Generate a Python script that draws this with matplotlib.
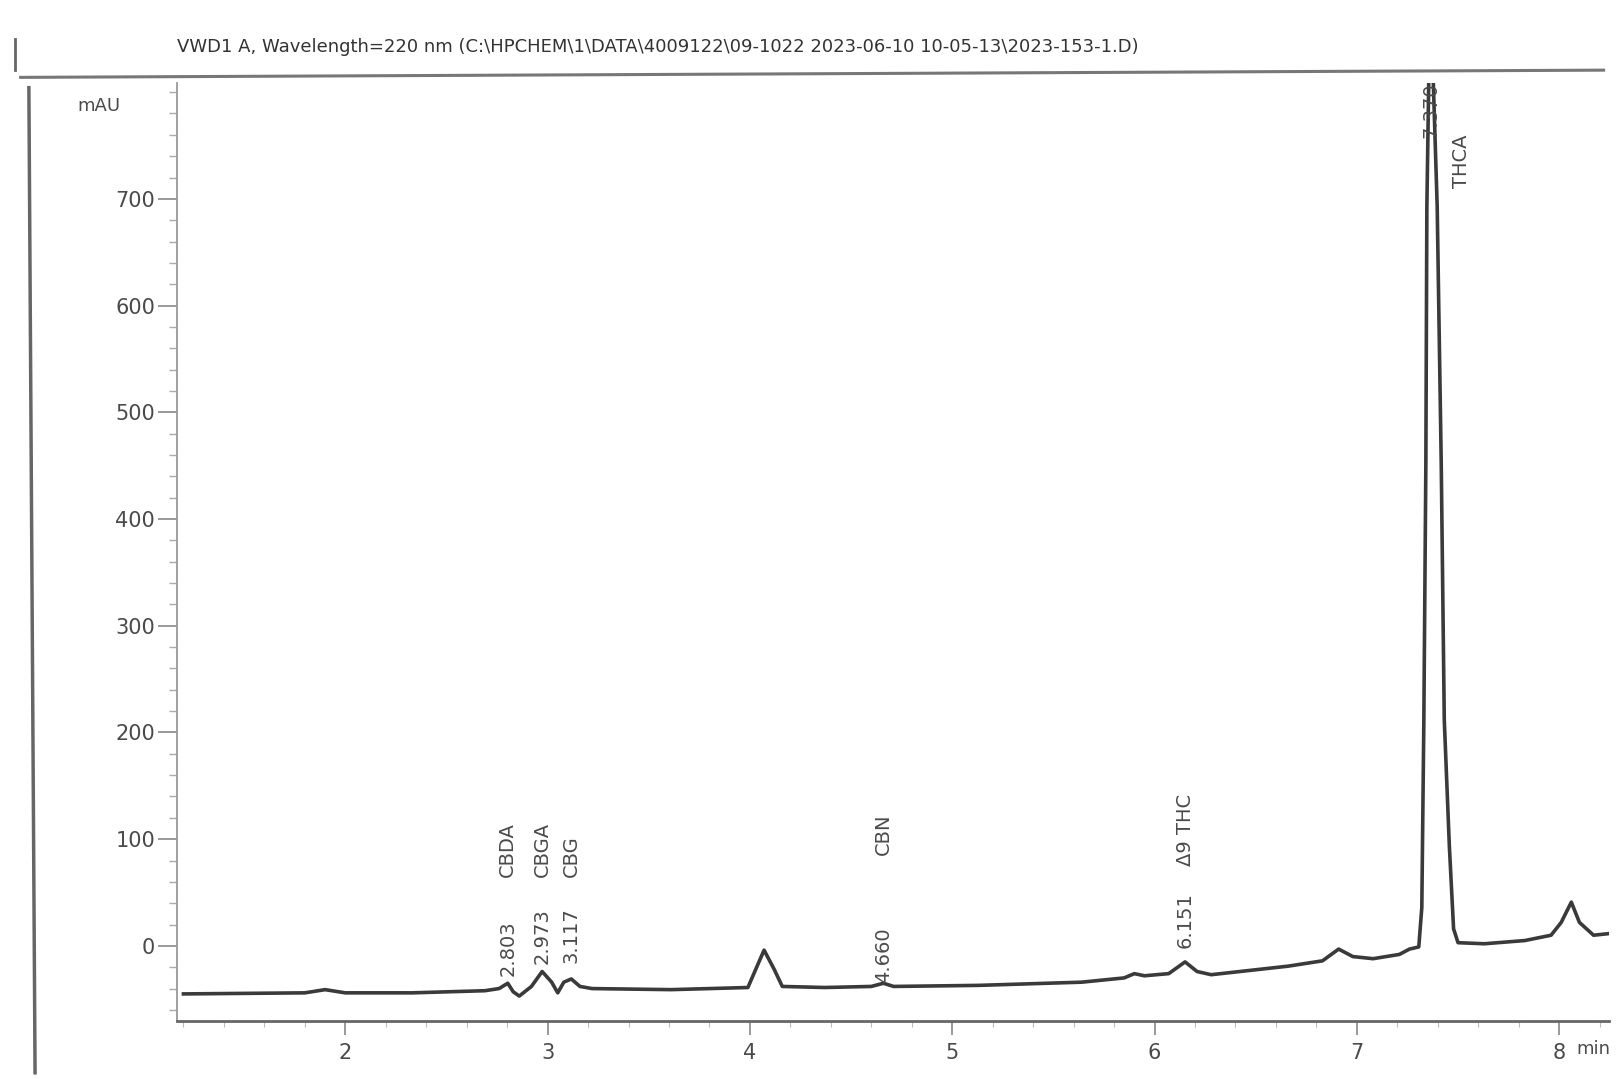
import matplotlib
matplotlib.use("Agg")
import matplotlib.pyplot as plt
from matplotlib.lines import Line2D
from matplotlib.ticker import MultipleLocator

# signal trace (retention time in min, absorbance in mAU)
times = [1.20, 1.80, 1.90, 2.00, 2.33, 2.69, 2.76, 2.803, 2.83, 2.86, 2.92,
         2.973, 3.02, 3.05, 3.08, 3.117, 3.16, 3.22, 3.61, 3.99, 4.04, 4.07,
         4.12, 4.16, 4.37, 4.60, 4.66, 4.71, 5.13, 5.64, 5.85, 5.90, 5.95,
         6.07, 6.151, 6.21, 6.28, 6.66, 6.83, 6.91, 6.98, 7.08, 7.21, 7.26,
         7.306, 7.321, 7.331, 7.341, 7.346, 7.356, 7.376, 7.397, 7.417, 7.432,
         7.457, 7.478, 7.50, 7.63, 7.83, 7.96, 8.01, 8.06, 8.10, 8.17, 8.27]
signal = [-45, -44, -41, -44, -44, -42, -40, -35, -43, -47, -38,
          -24, -34, -44, -34, -31, -38, -40, -41, -39, -17, -4,
          -22, -38, -39, -38, -35, -38, -37, -34, -30, -26, -28,
          -26, -15, -24, -27, -19, -14, -3, -10, -12, -8, -3,
          -1, 36, 210, 452, 693, 820, 820, 693, 452, 212,
          94, 16, 3, 2, 5, 10, 22, 41, 22, 10, 12]

# integrated peaks and their names
peak_rt = [2.803, 2.973, 3.117, 4.660, 6.151]
peak_names = ["CBDA", "CBGA", "CBG", "CBN", "\u03949 THC"]
peak_label_base = [-28, -17, -16, -35, -2]
main_rt = 7.370
main_name = "THCA"

y_ticks = [0, 100, 200, 300, 400, 500, 600, 700]
x_ticks = [2, 3, 4, 5, 6, 7, 8]

title = ("VWD1 A, Wavelength=220 nm (C:\\HPCHEM\\1\\DATA\\4009122\\09-1022 "
         "2023-06-10 10-05-13\\2023-153-1.D)")

ink = "#3a3a3a"
txt = "#4a4a4a"

fig = plt.figure(figsize=(16.17, 10.79), dpi=100)
W, H = 1568.0, 1046.0
ax = fig.add_axes([172 / W, 1 - 990 / H, (1560 - 172) / W, (990 - 80) / H])

ax.plot(times, signal, color=ink, lw=2.6, solid_joinstyle="round")

ax.set_xlim(1.17, 8.245)
ax.set_ylim(-70.6, 809)

ax.set_yticks(y_ticks)
ax.set_xticks(x_ticks)
ax.yaxis.set_minor_locator(MultipleLocator(20))
ax.xaxis.set_minor_locator(MultipleLocator(0.2))
ax.tick_params(axis="y", which="major", length=14, width=1.2, colors="#888",
               labelcolor=txt, labelsize=15, pad=2)
ax.tick_params(axis="y", which="minor", length=6, width=1.0, colors="#aaa")
ax.tick_params(axis="x", which="major", length=10, width=1.2, colors="#888",
               labelcolor=txt, labelsize=15, pad=6)
ax.tick_params(axis="x", which="minor", length=4, width=0.8, colors="#bbb")

for s in ["top", "right"]:
    ax.spines[s].set_visible(False)
ax.spines["left"].set_color("#999")
ax.spines["left"].set_linewidth(1.3)
ax.spines["bottom"].set_color("#666")
ax.spines["bottom"].set_linewidth(2.0)

ax.text(8.17, -70.6, "min", transform=ax.transData, fontsize=13, color=txt,
        ha="center", va="top", clip_on=False).set_y(-88)
fig.text(75 / W, 1 - 103 / H, "mAU", fontsize=13, color=txt, ha="left", va="center")

# peak annotations, rotated as in ChemStation printouts
for rt, name, yb in zip(peak_rt, peak_names, peak_label_base):
    ax.text(rt, yb, f"{rt:.3f}", rotation=90, ha="center", va="bottom",
            fontsize=14, color=txt)
    ax.text(rt, 65 if rt < 4 else (85 if rt < 5 else 75), name, rotation=90,
            ha="center", va="bottom", fontsize=14, color=txt)
ax.text(main_rt - 0.005, 809, f"{main_rt:.3f}", rotation=90, ha="center", va="top",
        fontsize=14, color=txt, clip_on=False)
ax.text(main_rt + 0.145, 760, main_name, rotation=90, ha="center", va="top",
        fontsize=14, color=txt)

fig.text(172 / W, 1 - 46 / H, title, fontsize=13, color="#333", ha="left", va="center")

# scanned page frame
fig.add_artist(Line2D([20 / W, 1555 / W], [1 - 75 / H, 1 - 68 / H], color="#777", lw=2.2))
fig.add_artist(Line2D([28 / W, 34 / W], [1 - 85 / H, 1 - 1040 / H], color="#666", lw=2.5))
fig.add_artist(Line2D([15 / W, 15 / W], [1 - 38 / H, 1 - 68 / H], color="#666", lw=2.0))

fig.savefig("out.png", dpi=100, facecolor="white")
